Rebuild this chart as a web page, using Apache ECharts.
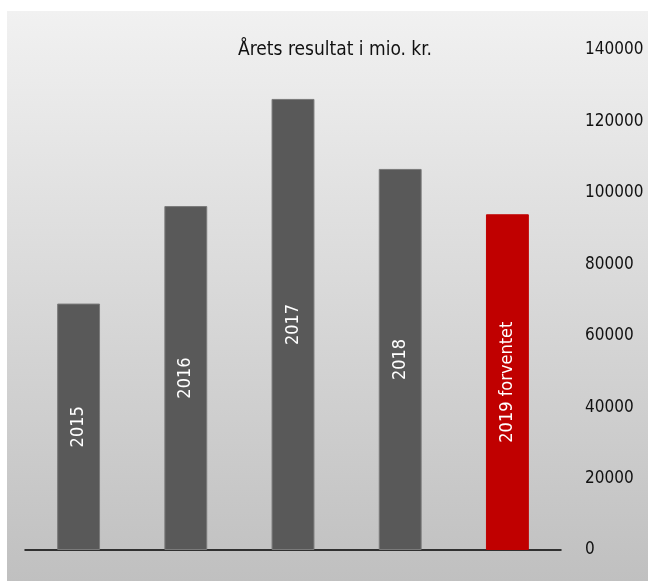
<!DOCTYPE html>
<html>
<head>
<meta charset="utf-8">
<script src="https://cdn.jsdelivr.net/npm/echarts@6/dist/echarts.min.js"></script>
<style>
  html, body { margin: 0; padding: 0; background: #ffffff; }
  #chart { width: 648px; height: 581px; }
</style>
</head>
<body>
<div id="chart"></div>
<script>
// Annual result per year (mio. kr.), last year is a forecast
const categories = ['2015', '2016', '2017', '2018', '2019 forventet'];
const values = [69000, 96300, 126300, 106700, 94000];
const barColors = ['#595959', '#595959', '#595959', '#595959', '#c00000'];
const yTicks = [0, 20000, 40000, 60000, 80000, 100000, 120000, 140000];

const FONT = '"DejaVu Sans Condensed", "Liberation Sans Narrow", "Roboto", sans-serif';

const chart = echarts.init(document.getElementById('chart'), null, { renderer: 'canvas' });

chart.setOption({
  backgroundColor: '#ffffff',
  animation: false,
  graphic: [{
    type: 'rect',
    z: -10,
    silent: true,
    shape: { x: 7, y: 11, width: 641, height: 570 },
    style: {
      fill: new echarts.graphic.LinearGradient(0, 0, 0, 1, [
        { offset: 0, color: '#f1f1f1' },
        { offset: 1, color: '#c0c0c0' }
      ])
    }
  }],
  title: {
    text: 'Årets resultat i mio. kr.',
    left: 330,
    top: 36,
    textAlign: 'center',
    textStyle: { fontFamily: FONT, fontSize: 19, fontWeight: 'normal', color: '#111111' }
  },
  grid: { left: 25, right: 87, top: 50, bottom: 31, containLabel: false, outerBoundsMode: 'none' },
  xAxis: {
    type: 'category',
    data: categories,
    axisLine: { show: true, lineStyle: { color: '#000000', width: 1.5 } },
    axisTick: { show: false },
    axisLabel: { show: false },
    splitLine: { show: false }
  },
  yAxis: {
    type: 'value',
    position: 'right',
    min: yTicks[0],
    max: yTicks[yTicks.length - 1],
    interval: yTicks[1] - yTicks[0],
    axisLine: { show: false },
    axisTick: { show: false },
    splitLine: { show: false },
    axisLabel: {
      margin: 24,
      fontFamily: FONT,
      fontSize: 17,
      color: '#111111',
      verticalAlign: 'middle',
      formatter: (v) => String(v)
    }
  },
  series: [{
    type: 'bar',
    barWidth: '40%',
    data: values.map((v, i) => ({
      value: v,
      itemStyle: { color: barColors[i], borderColor: i === 4 ? '#c00000' : '#7a7a7a', borderWidth: 1 }
    })),
    label: {
      show: true,
      position: 'inside',
      rotate: 90,
      formatter: '{b}',
      color: '#ffffff',
      fontFamily: FONT,
      fontSize: 18
    }
  }]
});
</script>
</body>
</html>
